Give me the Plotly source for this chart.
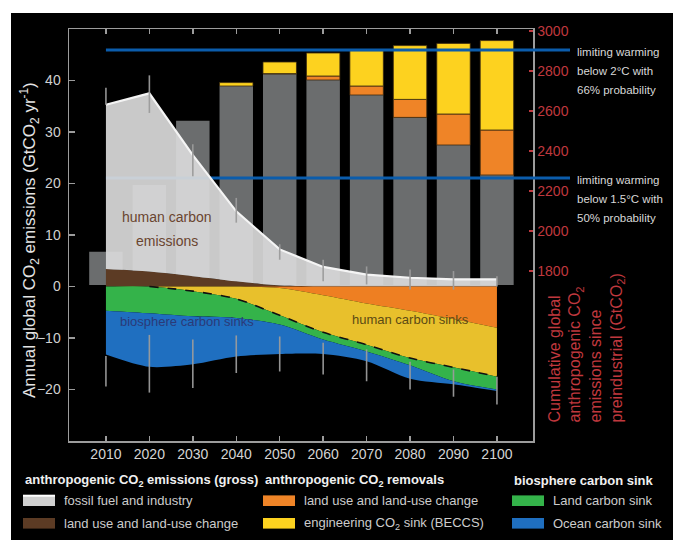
import plotly.graph_objects as go

# ---------------- data ----------------
years = [2010, 2020, 2030, 2040, 2050, 2060, 2070, 2080, 2090, 2100]
year_labels = [str(y) for y in years]

# annual emissions (GtCO2/yr), positive side
landuse_emis = [3.4, 2.9, 2.0, 1.0, 0.2, 0.0, 0.0, 0.0, 0.0, 0.0]
fossil_emis = [31.9, 34.6, 23.5, 13.6, 7.0, 3.8, 2.3, 1.7, 1.4, 1.4]

# annual removals / sinks (GtCO2/yr, magnitudes), negative side
landuse_removal = [0.0, 0.0, 0.0, 0.0, 0.3, 1.7, 3.3, 4.7, 6.3, 8.0]
beccs_removal = [0.0, 0.0, 0.9, 2.4, 5.3, 7.2, 8.0, 9.2, 9.4, 9.5]
land_sink = [4.7, 5.2, 4.9, 3.7, 1.8, 1.4, 1.3, 1.4, 2.7, 2.5]
ocean_sink = [8.5, 10.4, 9.3, 7.5, 5.7, 2.8, 1.9, 2.6, 0.6, 0.3]

# uncertainty ranges (GtCO2/yr)
emis_range_lo = [35.3, 33.7, 21.4, 12.4, 5.2, 1.0, 0.4, -0.6, -0.6, 0.0]
emis_range_hi = [38.6, 41.0, 27.6, 17.2, 8.2, 5.2, 3.9, 3.3, 3.0, 2.0]
sink_range_lo = [-19.4, -20.6, -19.7, -16.8, -16.5, -17.1, -18.4, -20.0, -21.4, -22.9]
sink_range_hi = [-13.5, -9.4, -10.3, -9.5, -9.7, -10.9, -12.2, -14.6, -16.1, -17.5]

# cumulative emissions since preindustrial (GtCO2), bars
cum_base = 1730
cum_net = [1896, 2230, 2551, 2725, 2785, 2755, 2680, 2568, 2430, 2280]
cum_landuse_removal = [0, 0, 0, 0, 2, 20, 45, 90, 155, 225]
cum_beccs = [0, 0, 0, 17, 58, 115, 177, 269, 353, 447]

budget_2C = 2905
budget_15C = 2265

emis_ticks = [-20, -10, 0, 10, 20, 30, 40]
cum_ticks = [1800, 2000, 2200, 2400, 2600, 2800, 3000]

# ---------------- geometry / styling ----------------
W, H = 673, 540
PL, PR, PT, PB = 69, 533, 29, 441   # plot area in pixels
XMIN, XMAX = 2001.5, 2108.3

def fx(px):
    return (px - PL) / (PR - PL)

def fy(py):
    return (PB - py) / (PB - PT)

FRAME = "#9c9c9c"
RED = "#c0383e"
SANS = "Liberation Sans, Arial, sans-serif"

C_BAR = "#6b6d6e"
C_ORANGE_BAR = "#ef8427"
C_YELLOW_BAR = "#fdd21f"
C_BROWN = "#5c3b24"
C_FOSSIL = "rgba(218,218,218,0.92)"
C_ORANGE = "#ee7f22"
C_YELLOW = "#e8c02c"
C_GREEN = "#34b34a"
C_BLUE = "#1f6fc0"
C_LIMIT = "#0b5cab"

fig = go.Figure()

# ---- cumulative bars (base y axis, right side) ----
fig.add_trace(go.Bar(
    x=years, y=[c - cum_base for c in cum_net], base=cum_base, width=7.7,
    marker=dict(color=C_BAR, line=dict(width=0)), xaxis="x", yaxis="y",
    showlegend=False, hoverinfo="skip"))
fig.add_trace(go.Bar(
    x=years, y=[v if v > 0 else None for v in cum_landuse_removal], base=cum_net, width=7.7,
    marker=dict(color=C_ORANGE_BAR, line=dict(width=0.8, color="#3a2a10")),
    xaxis="x", yaxis="y", showlegend=False, hoverinfo="skip"))
fig.add_trace(go.Bar(
    x=years, y=[v if v > 0 else None for v in cum_beccs],
    base=[n + o for n, o in zip(cum_net, cum_landuse_removal)], width=7.7,
    marker=dict(color=C_YELLOW_BAR, line=dict(width=0.8, color="#3a2a10")),
    xaxis="x", yaxis="y", showlegend=False, hoverinfo="skip"))

# ---- carbon budget lines (inside plot) ----
for b in (budget_2C, budget_15C):
    fig.add_trace(go.Scatter(
        x=[years[0], XMAX], y=[b, b], mode="lines",
        line=dict(color=C_LIMIT, width=3), xaxis="x", yaxis="y",
        showlegend=False, hoverinfo="skip"))

# ---- annual emission areas (overlay y2 axis, left side) ----
fig.add_trace(go.Scatter(
    x=years, y=landuse_emis, stackgroup="pos", mode="lines",
    line=dict(width=0, shape="spline", smoothing=0.8), fillcolor=C_BROWN,
    xaxis="x", yaxis="y2", showlegend=False, hoverinfo="skip"))
fig.add_trace(go.Scatter(
    x=years, y=fossil_emis, stackgroup="pos", mode="lines",
    line=dict(width=2.2, color="#f4f4f4", shape="linear"), fillcolor=C_FOSSIL,
    xaxis="x", yaxis="y2", showlegend=False, hoverinfo="skip"))

for vals, col in ((landuse_removal, C_ORANGE), (beccs_removal, C_YELLOW),
                  (land_sink, C_GREEN), (ocean_sink, C_BLUE)):
    fig.add_trace(go.Scatter(
        x=years, y=[-v for v in vals], stackgroup="neg", mode="lines",
        line=dict(width=0, shape="spline", smoothing=0.8), fillcolor=col,
        xaxis="x", yaxis="y2", showlegend=False, hoverinfo="skip"))

human_sink_total = [-(a + b) for a, b in zip(landuse_removal, beccs_removal)]
fig.add_trace(go.Scatter(
    x=years[1:], y=human_sink_total[1:], mode="lines",
    line=dict(color="#111111", width=1.6, dash="dash", shape="spline", smoothing=0.8),
    xaxis="x", yaxis="y2", showlegend=False, hoverinfo="skip"))

# ---- uncertainty whiskers ----
wx, wy = [], []
for yr, lo, hi in zip(years, emis_range_lo, emis_range_hi):
    wx += [yr, yr, None]
    wy += [lo, hi, None]
for yr, lo, hi in zip(years, sink_range_lo, sink_range_hi):
    wx += [yr, yr, None]
    wy += [lo, hi, None]
fig.add_trace(go.Scatter(
    x=wx, y=wy, mode="lines", line=dict(color="rgba(155,155,155,0.95)", width=1.6),
    xaxis="x", yaxis="y2", showlegend=False, hoverinfo="skip"))

shapes = []
# black panel background
shapes.append(dict(type="rect", xref="paper", yref="paper",
                   x0=fx(11), x1=fx(W + 5), y0=fy(H + 5), y1=fy(13),
                   fillcolor="black", line=dict(width=0), layer="below"))
# budget lines continuing outside the frame
for b in (budget_2C, budget_15C):
    shapes.append(dict(type="line", xref="paper", yref="y", x0=1.0, x1=fx(570),
                       y0=b, y1=b, line=dict(color=C_LIMIT, width=3), layer="above"))

annotations = []

def label(px, py, text, size, color, anchor="left", bold=False, angle=0, yanchor="middle", align="left"):
    annotations.append(dict(
        xref="paper", yref="paper", x=fx(px), y=fy(py), xanchor=anchor, yanchor=yanchor,
        align=align, textangle=angle, showarrow=False,
        text=("<b>" + text + "</b>") if bold else text,
        font=dict(family=SANS, size=size, color=color)))

# budget labels (one annotation per line to keep reference line spacing)
budget_text_2C = ["limiting warming", "below 2°C with", "66% probability"]
budget_text_15C = ["limiting warming", "below 1.5°C with", "50% probability"]
for i, t in enumerate(budget_text_2C):
    label(575, 51.5 + 19 * i, t, 11.5, "#d8d8d8")
for i, t in enumerate(budget_text_15C):
    label(575, 180 + 19 * i, t, 11.5, "#d8d8d8")

# in-plot labels
annotations.append(dict(xref="x", yref="y2", x=2024.0, y=13.4, showarrow=False,
                        text="human carbon", font=dict(family=SANS, size=14, color="#6a4530")))
annotations.append(dict(xref="x", yref="y2", x=2024.0, y=8.9, showarrow=False,
                        text="emissions", font=dict(family=SANS, size=14, color="#6a4530")))
annotations.append(dict(xref="x", yref="y2", x=2028.6, y=-6.7, showarrow=False,
                        text="biosphere carbon sinks",
                        font=dict(family=SANS, size=13, color="#2b3a78")))
annotations.append(dict(xref="x", yref="y2", x=2080.2, y=-6.4, showarrow=False,
                        text="human carbon sinks",
                        font=dict(family=SANS, size=13, color="#5b4a14")))

# axis titles
label(29, 240, "Annual global CO<sub>2</sub> emissions (GtCO<sub>2</sub> yr<sup>-1</sup>)",
      17, "#e4e4e4", anchor="center", angle=-90)
label(586, 425, "Cumulative global<br>anthropogenic CO<sub>2</sub><br>emissions since<br>preindustrial (GtCO<sub>2</sub>)",
      16, RED, anchor="center", angle=-90, yanchor="bottom", align="left")

# ---- manual legend ----
legend_headers = [
    (23, "anthropogenic CO<sub>2</sub> emissions (gross)"),
    (263, "anthropogenic CO<sub>2</sub> removals"),
    (512, "biosphere carbon sink"),
]
legend_items = [
    (23, 500.7, "#cfcfcf", "fossil fuel and industry"),
    (23, 523.3, C_BROWN, "land use and land-use change"),
    (263, 500.7, C_ORANGE_BAR, "land use and land-use change"),
    (263, 523.3, C_YELLOW_BAR, "engineering CO<sub>2</sub> sink (BECCS)"),
    (512, 500.7, C_GREEN, "Land carbon sink"),
    (512, 523.3, C_BLUE, "Ocean carbon sink"),
]
for x0, txt in legend_headers:
    label(x0, 480.7, txt, 13, "#f0f0f0", bold=True)
for i, (x0, yc, col, txt) in enumerate(legend_items):
    shapes.append(dict(type="rect", xref="paper", yref="paper",
                       x0=fx(x0), x1=fx(x0 + 32), y0=fy(yc + 5.3), y1=fy(yc - 5.3),
                       fillcolor=col, line=dict(width=0), layer="above"))
    if i == 0:
        shapes.append(dict(type="line", xref="paper", yref="paper",
                           x0=fx(x0), x1=fx(x0 + 32), y0=fy(yc - 5), y1=fy(yc - 5),
                           line=dict(color="white", width=2), layer="above"))
    label(x0 + 39, yc, txt, 13, "#cccccc")

fig.update_layout(
    width=W, height=H, autosize=False,
    margin=dict(l=PL, r=W - PR, t=PT, b=H - PB, pad=0),
    paper_bgcolor="white", plot_bgcolor="black",
    barmode="overlay", showlegend=False, hovermode=False,
    xaxis=dict(range=[XMIN, XMAX], tickvals=years, ticktext=year_labels,
               ticks="inside", ticklen=5, tickwidth=1.5, tickcolor=FRAME,
               showline=True, linecolor=FRAME, linewidth=1.5, mirror="ticks",
               showgrid=False, zeroline=False, anchor="y",
               tickfont=dict(family=SANS, size=14, color="#d4d4d4")),
    yaxis=dict(range=[950, 3010], side="right", tickvals=cum_ticks,
               ticks="inside", ticklen=4, tickwidth=1.5, tickcolor=RED,
               showline=True, linecolor=FRAME, linewidth=1.5,
               showgrid=False, zeroline=False,
               tickfont=dict(family=SANS, size=14, color=RED)),
    yaxis2=dict(range=[-30, 50], overlaying="y", side="left", tickvals=emis_ticks,
                ticks="inside", ticklen=6, tickwidth=1.5, tickcolor=FRAME,
                showline=True, linecolor=FRAME, linewidth=1.5,
                showgrid=False, zeroline=False, ticklabelstandoff=4,
                tickfont=dict(family=SANS, size=14, color="#d0d0d0")),
    shapes=shapes, annotations=annotations,
)

fig.write_html(
    "out.html",
    config={"displayModeBar": False, "staticPlot": True},
    post_script="document.body.style.margin='0px';document.body.style.overflow='hidden';",
)
